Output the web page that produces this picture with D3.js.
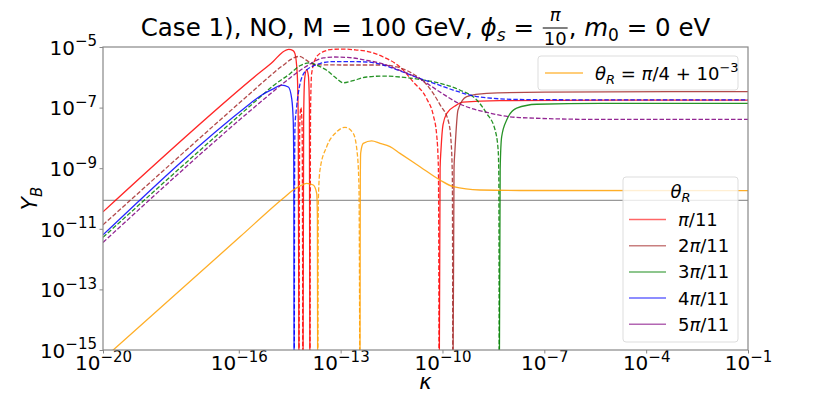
<!DOCTYPE html>
<html>
<head>
<meta charset="utf-8">
<script src="https://cdn.jsdelivr.net/npm/d3@7"></script>
<style>
  body { margin: 0; background: #fff; }
  svg { font-family: "DejaVu Sans", sans-serif; }
</style>
</head>
<body>
<svg id="chart" width="831" height="394"></svg>
<script>
// Tick exponents and reference line
const xTickExps = [-20, -16, -13, -10, -7, -4, -1];
const yTickExps = [-5, -7, -9, -11, -13, -15];
const observedYB = 8.7e-11;

// legend labels
const thetaLabels = ["π/11", "2π/11", "3π/11", "4π/11", "5π/11"];
const thetaColors = ["#ff0000", "#a52a2a", "#008000", "#0000ff", "#800080"];
const orangeColor = "#ffa000";

// curves: points are [log10 kappa, log10 |Y_B|]; solid = positive, dashed = negative
const red1 = [[-20, -10.44], [-15.5, -5.95], [-14.98, -5.47], [-14.72, -5.18], [-14.53, -5.08], [-14.40, -5.12], [-14.345, -5.22], [-14.277, -5.92], [-14.248, -7.48], [-14.227, -16]];
const red2 = [[-14.225, -16], [-14.205, -7.6], [-14.17, -7.0], [-14.135, -7.6], [-14.112, -16]];
const red3 = [[-14.108, -16], [-14.09, -7.4], [-14.06, -6.05], [-14.0, -5.75], [-13.95, -5.95], [-13.92, -6.9], [-13.905, -16]];
const red4 = [[-13.902, -16], [-13.885, -7.0], [-13.853, -5.87], [-13.705, -5.32], [-13.511, -5.155], [-13.217, -5.076], [-12.9, -5.07], [-12.527, -5.10], [-12.233, -5.14], [-11.744, -5.33], [-11.252, -5.66], [-10.86, -6.155], [-10.465, -6.706], [-10.271, -7.254], [-10.171, -7.90], [-10.12, -9.0], [-10.10, -16]];
const red5 = [[-10.095, -16], [-10.07, -9.0], [-10.044, -8.40], [-9.985, -7.57], [-9.867, -7.18], [-9.632, -6.95], [-9.396, -6.82], [-8.306, -6.77], [-5, -6.75], [-1, -6.75]];

const brown1 = [[-20, -10.87], [-15.5, -6.37], [-14.95, -5.83], [-14.69, -5.60], [-14.42, -5.38], [-14.22, -5.31], [-14.0, -5.44], [-13.853, -5.55], [-13.61, -5.59], [-12.725, -5.594], [-11.744, -5.594], [-11.34, -5.66], [-10.86, -5.89], [-10.46, -6.25], [-10.07, -6.91], [-9.82, -7.475], [-9.75, -8.07], [-9.71, -9.2], [-9.695, -16]];
const brown2 = [[-9.69, -16], [-9.66, -9.0], [-9.632, -8.40], [-9.543, -7.08], [-9.287, -6.64], [-8.698, -6.53], [-7, -6.49], [-1, -6.47]];

const green1 = [[-20, -11.28], [-15.5, -6.78], [-15.0, -6.29], [-14.49, -5.88], [-14.2, -5.62], [-13.90, -5.52], [-13.75, -5.58], [-13.41, -5.77], [-13.17, -5.99], [-12.92, -6.18], [-12.67, -6.12], [-12.23, -5.99], [-11.74, -5.96], [-11.25, -5.99], [-10.66, -6.07], [-10.07, -6.20], [-9.49, -6.42], [-8.99, -6.75], [-8.70, -7.19], [-8.45, -7.74], [-8.36, -8.40], [-8.34, -9.3], [-8.33, -16]];
const green2 = [[-8.325, -16], [-8.30, -9.0], [-8.256, -7.96], [-8.109, -7.41], [-7.815, -7.02], [-7.225, -6.89], [-5.36, -6.86], [-1, -6.86]];

const blue1 = [[-20, -11.2], [-15.7, -6.90], [-15.4, -6.64], [-15.0, -6.39], [-14.74, -6.26], [-14.54, -6.32], [-14.44, -6.71], [-14.395, -7.475], [-14.38, -9.0], [-14.37, -16]];
const blue2 = [[-14.365, -16], [-14.355, -9.0], [-14.345, -7.64], [-14.295, -6.97], [-14.197, -6.22], [-14.109, -5.92], [-14.0, -5.76], [-13.815, -5.63], [-13.608, -5.545], [-13.217, -5.48], [-12.725, -5.48], [-12.233, -5.495], [-11.744, -5.594], [-11.252, -5.79], [-10.663, -6.04], [-10.271, -6.19], [-9.779, -6.386], [-8.896, -6.65], [-7.717, -6.733], [-5, -6.745], [-1, -6.745]];

const purple1 = [[-20, -11.45], [-15.5, -6.95], [-15.0, -6.48], [-14.49, -6.02], [-14.0, -5.63], [-13.51, -5.36], [-13.17, -5.33], [-12.725, -5.35], [-12.233, -5.44], [-11.75, -5.56], [-11.252, -5.77], [-10.663, -6.056], [-10.074, -6.485], [-9.485, -6.88], [-8.69, -7.16], [-7.717, -7.33], [-5.361, -7.39], [-1, -7.39]];

const orange1 = [[-20, -15.3], [-15.965, -11.265], [-14.7, -10.0], [-14.395, -9.72], [-14.2, -9.59], [-14.0, -9.50], [-13.806, -9.555], [-13.705, -9.83], [-13.685, -10.6], [-13.676, -16]];
const orange2 = [[-13.67, -16], [-13.655, -10.0], [-13.608, -9.06], [-13.411, -8.29], [-13.116, -7.80], [-12.872, -7.65], [-12.628, -7.85], [-12.51, -8.51], [-12.46, -9.61], [-12.435, -16]];
const orange3 = [[-12.43, -16], [-12.42, -9.3], [-12.41, -8.50], [-12.333, -8.18], [-12.086, -8.10], [-11.841, -8.18], [-11.546, -8.29], [-11.252, -8.51], [-10.663, -8.95], [-10.074, -9.39], [-9.68, -9.61], [-8.896, -9.72], [-7.72, -9.736], [-1, -9.74]];

const curves = [
  { color: thetaColors[0], segs: [["s", red1], ["d", red2], ["s", red3], ["d", red4], ["s", red5]] },
  { color: thetaColors[1], segs: [["d", brown1], ["s", brown2]] },
  { color: thetaColors[2], segs: [["d", green1], ["s", green2]] },
  { color: thetaColors[3], segs: [["s", blue1], ["d", blue2]] },
  { color: thetaColors[4], segs: [["d", purple1]] },
  { color: orangeColor, segs: [["s", orange1], ["d", orange2], ["s", orange3]] },
];

// layout
const plotLeft = 103, plotRight = 748, plotTop = 47, plotBottom = 350;
const svg = d3.select("#chart");

const x = d3.scaleLog().domain([1e-20, 1e-1]).range([plotLeft, plotRight]);
const y = d3.scaleLog().domain([1e-15, 1e-5]).range([plotBottom, plotTop]);

svg.append("defs").append("clipPath").attr("id", "plotclip")
  .append("rect").attr("x", plotLeft).attr("y", plotTop)
  .attr("width", plotRight - plotLeft).attr("height", plotBottom - plotTop);

// writes "10^e" with a superscript
function expLabel(sel, supSize) {
  sel.each(function (d) {
    const t = d3.select(this);
    const e = Math.round(Math.log10(d));
    t.text(null);
    t.append("tspan").text("10");
    t.append("tspan").attr("dy", "-0.55em").style("font-size", supSize + "px")
      .text((e < 0 ? "\u2212" : "") + Math.abs(e));
  });
}

const spineColor = "#888";

// x axis
const xAxis = svg.append("g")
  .attr("transform", `translate(0,${plotBottom})`)
  .call(d3.axisBottom(x).tickValues(xTickExps.map((e) => Math.pow(10, e))).tickSize(3.5).tickSizeOuter(0));
xAxis.select(".domain").remove();
xAxis.selectAll(".tick line").attr("stroke", spineColor);
xAxis.selectAll(".tick text")
  .attr("y", 20).attr("dy", 0)
  .style("font-size", "20px").style("font-family", "DejaVu Sans").attr("fill", "#000")
  .call(expLabel, 15);

// y axis
const yAxis = svg.append("g")
  .attr("transform", `translate(${plotLeft},0)`)
  .call(d3.axisLeft(y).tickValues(yTickExps.map((e) => Math.pow(10, e))).tickSize(3.5).tickSizeOuter(0));
yAxis.select(".domain").remove();
yAxis.selectAll(".tick line").attr("stroke", spineColor);
yAxis.selectAll(".tick text")
  .attr("x", -6).attr("dy", "0.36em")
  .style("font-size", "20px").style("font-family", "DejaVu Sans").attr("fill", "#000")
  .call(expLabel, 15);

// observed value line
svg.append("line")
  .attr("x1", plotLeft).attr("x2", plotRight)
  .attr("y1", y(observedYB)).attr("y2", y(observedYB))
  .attr("stroke", "#999").attr("stroke-width", 1.3);

// curves
const line = d3.line()
  .x((d) => x(Math.pow(10, d[0])))
  .y((d) => y(Math.pow(10, d[1])))
  .curve(d3.curveMonotoneX);

const plot = svg.append("g").attr("clip-path", "url(#plotclip)");
curves.forEach((c) => {
  c.segs.forEach(([style, pts]) => {
    plot.append("path")
      .attr("d", line(pts))
      .attr("fill", "none")
      .attr("stroke", c.color)
      .attr("stroke-opacity", 0.85)
      .attr("stroke-width", 1.3)
      .attr("stroke-dasharray", style === "d" ? "4.5,2" : null);
  });
});

// frame
svg.append("rect")
  .attr("x", plotLeft).attr("y", plotTop)
  .attr("width", plotRight - plotLeft).attr("height", plotBottom - plotTop)
  .attr("fill", "none").attr("stroke", spineColor).attr("stroke-width", 1.2);

// rich text helper: items laid out left to right, returns width
function rich(g, items) {
  let cx = 0;
  items.forEach((it) => {
    if (it.num) {
      const n = g.append("text").attr("y", it.numY).style("font-size", it.size + "px")
        .attr("font-style", "italic").attr("text-anchor", "middle").text(it.num);
      const dn = g.append("text").attr("y", it.denY).style("font-size", it.size + "px")
        .attr("text-anchor", "middle").text(it.den);
      const w = Math.max(n.node().getComputedTextLength(), dn.node().getComputedTextLength()) + 4;
      n.attr("x", cx + w / 2);
      dn.attr("x", cx + w / 2);
      g.append("line").attr("x1", cx + 1).attr("x2", cx + w - 1)
        .attr("y1", it.barY).attr("y2", it.barY).attr("stroke", "#000").attr("stroke-width", 1);
      cx += w;
    } else {
      const t = g.append("text").attr("x", cx).attr("y", it.shift || 0)
        .style("font-size", it.size + "px")
        .attr("font-style", it.italic ? "italic" : null)
        .text(it.t.replace(/ /g, "\u00a0"));
      cx += t.node().getComputedTextLength();
    }
  });
  return cx;
}

// title
const titleG = svg.append("g");
const tw = rich(titleG, [
  { t: "Case 1), NO, M = 100 GeV, ", size: 24.5 },
  { t: "ϕ", size: 24.5, italic: true },
  { t: "s", size: 17, italic: true, shift: 5 },
  { t: " = ", size: 24.5 },
  { num: "π", den: "10", size: 18, numY: -15, denY: 9, barY: -8 },
  { t: ", ", size: 24.5 },
  { t: "m", size: 24.5, italic: true },
  { t: "0", size: 17, shift: 5 },
  { t: " = 0 eV", size: 24.5 },
]);
titleG.attr("transform", `translate(${(plotLeft + plotRight) / 2 - tw / 2},36)`);

// axis labels
const xlG = svg.append("g");
const xlw = rich(xlG, [{ t: "κ", size: 21, italic: true }]);
xlG.attr("transform", `translate(${(plotLeft + plotRight) / 2 - xlw / 2},389)`);

const ylG = svg.append("g");
const ylw = rich(ylG, [
  { t: "Y", size: 22, italic: true },
  { t: "B", size: 15, italic: true, shift: 5 },
]);
ylG.attr("transform", `translate(37,${(plotTop + plotBottom) / 2 + ylw / 2}) rotate(-90)`);

// upper legend (orange curve)
svg.append("rect")
  .attr("x", 538).attr("y", 56).attr("width", 200).attr("height", 34).attr("rx", 3)
  .attr("fill", "#fff").attr("fill-opacity", 0.8).attr("stroke", "#ddd");
svg.append("line").attr("x1", 545).attr("x2", 583).attr("y1", 73).attr("y2", 73)
  .attr("stroke", orangeColor).attr("stroke-opacity", 0.7).attr("stroke-width", 1.5);
const lg1 = svg.append("g").attr("transform", "translate(595,80)");
rich(lg1, [
  { t: "θ", size: 18, italic: true },
  { t: "R", size: 13, italic: true, shift: 4 },
  { t: " = ", size: 18 },
  { t: "π", size: 18, italic: true },
  { t: "/4 + 10", size: 18 },
  { t: "\u22123", size: 13, shift: -8 },
]);

// lower legend (theta_R)
svg.append("rect")
  .attr("x", 623).attr("y", 177).attr("width", 115).attr("height", 165).attr("rx", 3)
  .attr("fill", "#fff").attr("fill-opacity", 0.8).attr("stroke", "#ddd");
const lgT = svg.append("g");
const lgTw = rich(lgT, [
  { t: "θ", size: 18, italic: true },
  { t: "R", size: 13, italic: true, shift: 4 },
]);
lgT.attr("transform", `translate(${680.5 - lgTw / 2},198)`);

thetaLabels.forEach((lab, i) => {
  const cy = 219.5 + i * 26.2;
  svg.append("line").attr("x1", 629).attr("x2", 666).attr("y1", cy).attr("y2", cy)
    .attr("stroke", thetaColors[i]).attr("stroke-opacity", 0.6).attr("stroke-width", 1.5);
  const g = svg.append("g").attr("transform", `translate(678,${cy + 6.5})`);
  const m = lab.match(/^(\d*)π(.*)$/);
  rich(g, [
    { t: m[1], size: 18 },
    { t: "π", size: 18, italic: true },
    { t: m[2], size: 18 },
  ]);
});
</script>
</body>
</html>
